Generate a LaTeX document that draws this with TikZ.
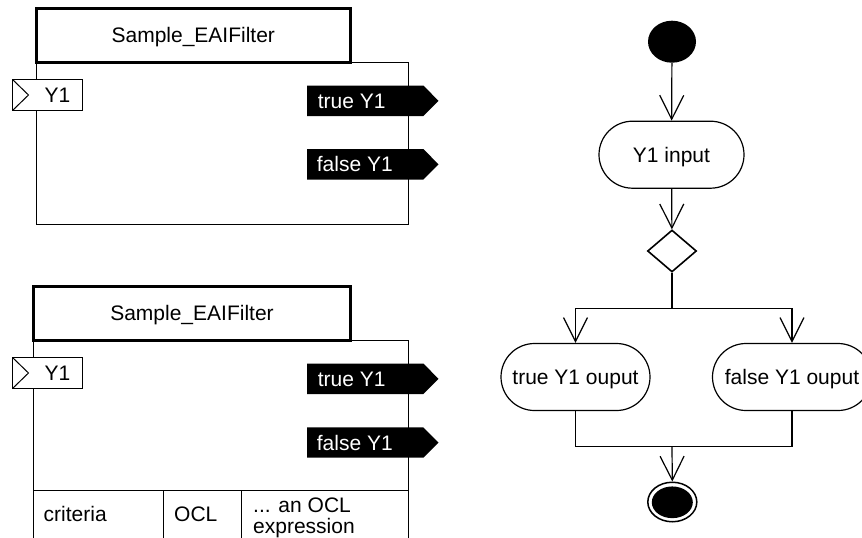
\documentclass[tikz,border=0pt]{standalone}
\usepackage{fontspec}
\setmainfont{Liberation Sans}
\usetikzlibrary{arrows.meta,shapes.geometric,shapes.misc}
\begin{document}
\begin{tikzpicture}[x=1pt,y=-1pt,
  every node/.style={font=\fontsize{21}{24}\selectfont, inner sep=0pt},
  txt/.style={text height=15pt, text depth=0pt},
  thin/.style={line width=1pt},
  titlebox/.style={line width=3pt},
  outport/.style={fill=black, draw=none},
  activity/.style={rounded rectangle, draw, line width=1.2pt, minimum height=67pt, text height=15pt, text depth=0pt},
  arr/.style={line width=1.2pt, -{Straight Barb[length=24pt,width=24pt,line width=1.2pt]}},
  flow/.style={line width=1.2pt}
]
\clip (0,0) rectangle (862,538);
\fill[white] (0,0) rectangle (862,538);

% ---------- top block ----------
\draw[thin] (36,62) rectangle (408,224);
\draw[titlebox, fill=white] (36,8.5) rectangle (350.5,62);
\node[txt] (t1title) at (193.3,35.3) {Sample\_EAIFilter};
\draw[thin, fill=white] (12.5,79.5) rectangle (82.3,110.5);
\draw[thin] (12.5,79.5) -- (28.5,95) -- (12.5,110.5);
\node[txt] (t1in) at (57.5,95) {Y1};
\fill[outport] (307,85.5) -- (423.3,85.5) -- (438.5,100.8) -- (423.3,116) -- (307,116) -- cycle;
\node[txt, anchor=west, text=white] (t1true) at (317.7,100.8) {true Y1};
\fill[outport] (307,149) -- (423.3,149) -- (438.5,164.3) -- (423.3,179.5) -- (307,179.5) -- cycle;
\node[txt, anchor=west, text=white] (t1false) at (316.7,164.3) {false Y1};

% ---------- bottom block ----------
\draw[thin] (33.5,340.5) rectangle (408.3,560);
\draw[titlebox, fill=white] (33.5,286) rectangle (350.5,340.5);
\node[txt] (t2title) at (192,313.3) {Sample\_EAIFilter};
\draw[thin, fill=white] (12.5,357.5) rectangle (82.3,388.5);
\draw[thin] (12.5,357.5) -- (28.5,373) -- (12.5,388.5);
\node[txt] (t2in) at (57.5,373) {Y1};
\fill[outport] (307,363.5) -- (423.3,363.5) -- (438.5,378.8) -- (423.3,394) -- (307,394) -- cycle;
\node[txt, anchor=west, text=white] (t2true) at (317.7,378.8) {true Y1};
\fill[outport] (307,427.3) -- (423.3,427.3) -- (438.5,442.5) -- (423.3,457.7) -- (307,457.7) -- cycle;
\node[txt, anchor=west, text=white] (t2false) at (316.7,442.5) {false Y1};
% table
\draw[thin] (33.5,490.5) -- (408.3,490.5);
\draw[thin] (163.5,490.5) -- (163.5,560);
\draw[thin] (241.5,490.5) -- (241.5,560);
\node[anchor=base west] (crit) at (43.5,521) {criteria};
\node[anchor=base west] (ocl) at (174,521) {OCL};
\node[anchor=base west] (expr1) at (253,512) {... an OCL};
\node[anchor=base west] (expr2) at (253,533.5) {expression};

% ---------- activity diagram ----------
\node[ellipse, fill=black, minimum width=48pt, minimum height=42pt] (start) at (672,41.7) {};
\node[activity, minimum width=145pt] (yin) at (671.5,154.7) {Y1 input};
\node[diamond, draw, line width=1.6pt, minimum width=49pt, minimum height=42pt, aspect=1.17] (dec) at (672,251) {};
\coordinate (split) at (672,308.3);
\node[activity, minimum width=149pt] (tout) at (575.5,377) {true Y1 ouput};
\node[activity, minimum width=159pt] (fout) at (792,377) {false Y1 ouput};
\coordinate (join) at (672,446.7);
\node[ellipse, draw, line width=1.5pt, fill=white, minimum width=49pt, minimum height=39.5pt] (endn) at (672.3,502) {};
\node[ellipse, fill=black, minimum width=41pt, minimum height=31.7pt] (endin) at (672.3,502.3) {};

\draw[arr] (start) -- (yin);
\draw[arr] (yin) -- (dec);
\draw[line width=2.2pt] (dec.south) -- (split);
\draw[flow] (tout.north |- split) -- (fout.north |- split);
\draw[arr] (split) -| (tout.north);
\draw[arr] (split) -| (fout.north);
\draw[flow] (tout.south) |- (join);
\draw[flow] (fout.south) |- (join);
\draw[arr] (join) -- (endn.north);
\end{tikzpicture}
\end{document}
